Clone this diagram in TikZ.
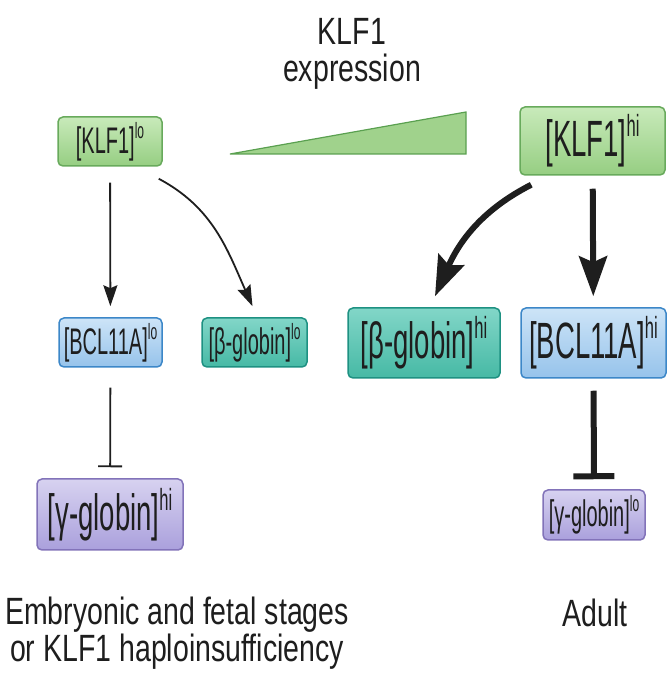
\documentclass[tikz,border=0pt]{standalone}
\usepackage{fontspec}
\setmainfont{Liberation Sans}
\newfontfamily\boxfont[FakeStretch=0.54]{Liberation Sans}
\newfontfamily\capfont[FakeStretch=0.75]{Liberation Sans}
\usetikzlibrary{arrows.meta}
\newcommand\lvl[1]{\raisebox{0.4em}{\scalebox{0.6}{#1}}}
\definecolor{inkline}{RGB}{30,30,30}
\definecolor{klfline}{RGB}{104,170,92}
\definecolor{klftop}{RGB}{200,234,186}
\definecolor{klfbot}{RGB}{150,206,130}
\definecolor{betaline}{RGB}{30,145,130}
\definecolor{betatop}{RGB}{130,214,200}
\definecolor{betabot}{RGB}{70,185,165}
\definecolor{bclline}{RGB}{60,135,200}
\definecolor{bcltop}{RGB}{205,228,247}
\definecolor{bclbot}{RGB}{150,195,235}
\definecolor{gamline}{RGB}{130,115,185}
\definecolor{gamtop}{RGB}{215,210,240}
\definecolor{gambot}{RGB}{170,160,220}
\definecolor{wedgefill}{RGB}{160,210,140}
\definecolor{wedgeline}{RGB}{90,160,80}
\tikzset{
  gene/.style={rounded corners=5pt, line width=1.5pt, inner sep=0pt, text=inkline},
  lo/.style={gene, minimum height=49pt, font=\boxfont\fontsize{37}{42}\selectfont},
  hi/.style={gene, minimum height=70pt, font=\boxfont\fontsize{51}{58}\selectfont},
  klf/.style={draw=klfline, top color=klftop, bottom color=klfbot},
  beta/.style={draw=betaline, top color=betatop, bottom color=betabot},
  bcl/.style={draw=bclline, top color=bcltop, bottom color=bclbot},
  gam/.style={draw=gamline, top color=gamtop, bottom color=gambot},
  captext/.style={inner sep=0pt, text=inkline, font=\capfont\fontsize{38}{37}\selectfont},
  thinarrow/.style={draw=inkline, line width=1.8pt, -{Stealth[length=21pt,width=14pt,inset=3pt]}},
  thickarrow/.style={draw=inkline, line width=6pt, -{Stealth[length=40pt,width=28pt,inset=6pt]}}
}
\begin{document}
\begin{tikzpicture}[x=1pt,y=1pt]
\useasboundingbox (0,0) rectangle (668,686);
%Espressione KLF1
\node[captext, align=center, anchor=north] (titolo) at (352,668) {KLF1\\expression};
\draw[fill=wedgefill, draw=wedgeline, line width=1.2pt] (230,532) -- (466,574) -- (466,532) -- cycle;
%Stadi embrionali
\node[lo, klf, minimum width=104pt] (klflo) at (110,544.5) {[KLF1]\lvl{lo}};
\node[lo, bcl, minimum width=103pt] (bcllo) at (110.5,343.5) {[BCL11A]\lvl{lo}};
\node[lo, beta, minimum width=105pt] (betalo) at (254.5,343.5) {[β-globin]\lvl{lo}};
\node[hi, gam, minimum width=146pt, minimum height=71pt] (gamhi) at (110,171.5) {[γ-globin]\lvl{hi}};
\draw[thinarrow, shorten <=16pt, shorten >=11pt] (klflo) -- (bcllo);
\draw[thinarrow] ([xshift=-4pt,yshift=-12pt]klflo.south east) to[out=-28,in=114] ([xshift=-2pt,yshift=11pt]betalo.north);
\draw[draw=inkline, line width=1.8pt, -{Bar[width=24pt]}, shorten <=20pt, shorten >=11pt] (bcllo) -- (gamhi);
%Adulto
\node[hi, klf, minimum width=145pt, minimum height=68pt] (klfhi) at (592.5,545) {[KLF1]\lvl{hi}};
\node[hi, beta, minimum width=152pt] (betahi) at (424,343) {[β-globin]\lvl{hi}};
\node[hi, bcl, minimum width=145pt] (bclhi) at (593.5,343) {[BCL11A]\lvl{hi}};
\node[lo, gam, minimum width=102pt, minimum height=50pt] (gamlo) at (594,171) {[γ-globin]\lvl{lo}};
\draw[thickarrow] ([xshift=12pt,yshift=-9pt]klfhi.south west) to[out=-153,in=66] ([xshift=11pt,yshift=11pt]betahi.north);
\draw[thickarrow, shorten <=13pt, shorten >=11pt] (klfhi) -- (bclhi);
\draw[draw=inkline, line width=6pt, -{Bar[width=41pt]}, shorten <=12pt, shorten >=10pt] (bclhi) -- (gamlo);
%Didascalie
\node[captext, align=center, anchor=north] (fetal) at (177,89) {Embryonic and fetal stages\\or KLF1 haploinsufficiency};
\node[captext, anchor=base] (adult) at (595,59) {Adult};
\end{tikzpicture}
\end{document}
